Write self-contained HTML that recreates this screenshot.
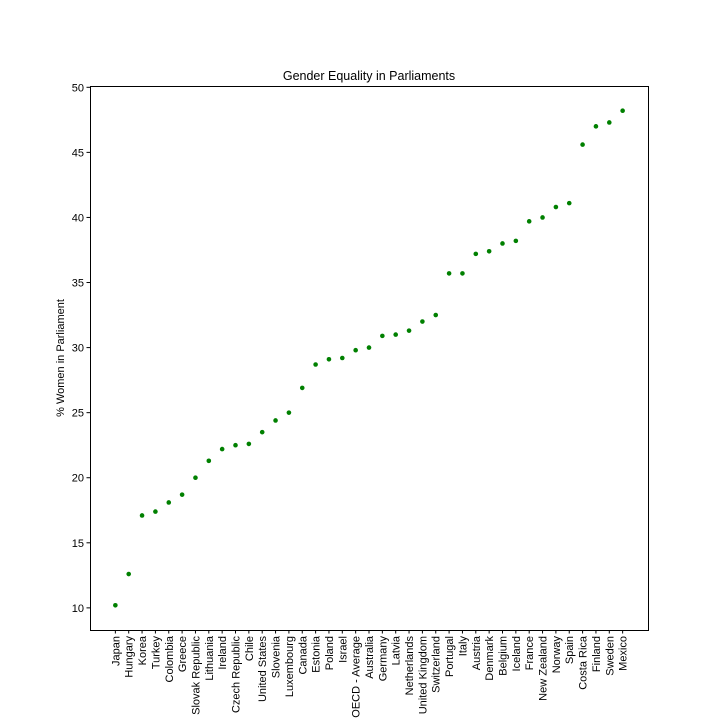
<!DOCTYPE html>
<html><head><meta charset="utf-8"><style>
body{margin:0;background:#fff;font-family:"Liberation Sans",sans-serif}
</style></head><body>
<svg id="chart" width="720" height="720" xmlns="http://www.w3.org/2000/svg">
<rect width="720" height="720" fill="#fff"/>
<text x="369" y="80" text-anchor="middle" font-size="12.5">Gender Equality in Parliaments</text>
<text transform="translate(64,358) rotate(-90)" text-anchor="middle" font-size="11">% Women in Parliament</text>
<g id="marks"></g>
<rect x="90.5" y="86.5" width="558" height="544" fill="none" stroke="#000" stroke-width="1"/>
</svg>
<script>
const categories=["Japan","Hungary","Korea","Turkey","Colombia","Greece","Slovak Republic","Lithuania","Ireland","Czech Republic","Chile","United States","Slovenia","Luxembourg","Canada","Estonia","Poland","Israel","OECD - Average","Australia","Germany","Latvia","Netherlands","United Kingdom","Switzerland","Portugal","Italy","Austria","Denmark","Belgium","Iceland","France","New Zealand","Norway","Spain","Costa Rica","Finland","Sweden","Mexico"];
const values=[10.2,12.6,17.1,17.4,18.1,18.7,20.0,21.3,22.2,22.5,22.6,23.5,24.4,25.0,26.9,28.7,29.1,29.2,29.8,30.0,30.9,31.0,31.3,32.0,32.5,35.7,35.7,37.2,37.4,38.0,38.2,39.7,40.0,40.8,41.1,45.6,47.0,47.3,48.2];
const yTicks=[10,15,20,25,30,35,40,45,50];
const NS="http://www.w3.org/2000/svg";
const L=90,R=648,T=86,B=630;
const n=categories.length;
const xm=(n-1)*0.05;
function xs(i){return L+(i+xm)/((n-1)+2*xm)*(R-L);}
const vmin=Math.min(...values),vmax=Math.max(...values),ym=(vmax-vmin)*0.05;
const y0=vmin-ym,y1=vmax+ym;
function ys(v){return B-(v-y0)/(y1-y0)*(B-T);}
const g=document.getElementById('marks');
function mk(t,a){const e=document.createElementNS(NS,t);for(const k in a)e.setAttribute(k,a[k]);g.appendChild(e);return e;}
yTicks.forEach(v=>{
 const y=ys(v);
 const t=mk('line',{x1:L-3.5,x2:L,y1:y,y2:y,stroke:'#000'});
 
 
 const l=mk('text',{x:L-6,y:y+4,'text-anchor':'end','font-size':'11'});
 l.textContent=v;
 
 
});
categories.forEach((c,i)=>{
 const x=xs(i);
 const t=mk('line',{x1:x,x2:x,y1:B,y2:B+3.5,stroke:'#000'});
 
 
 const l=mk('text',{transform:`translate(${x+4},${B+6}) rotate(-90)`,'text-anchor':'end','font-size':'11'});
 l.textContent=c;
 
 
 const p=mk('circle',{cx:x,cy:ys(values[i]),r:2.3,fill:'#008000'});
 
 
});
</script>
</body></html>
